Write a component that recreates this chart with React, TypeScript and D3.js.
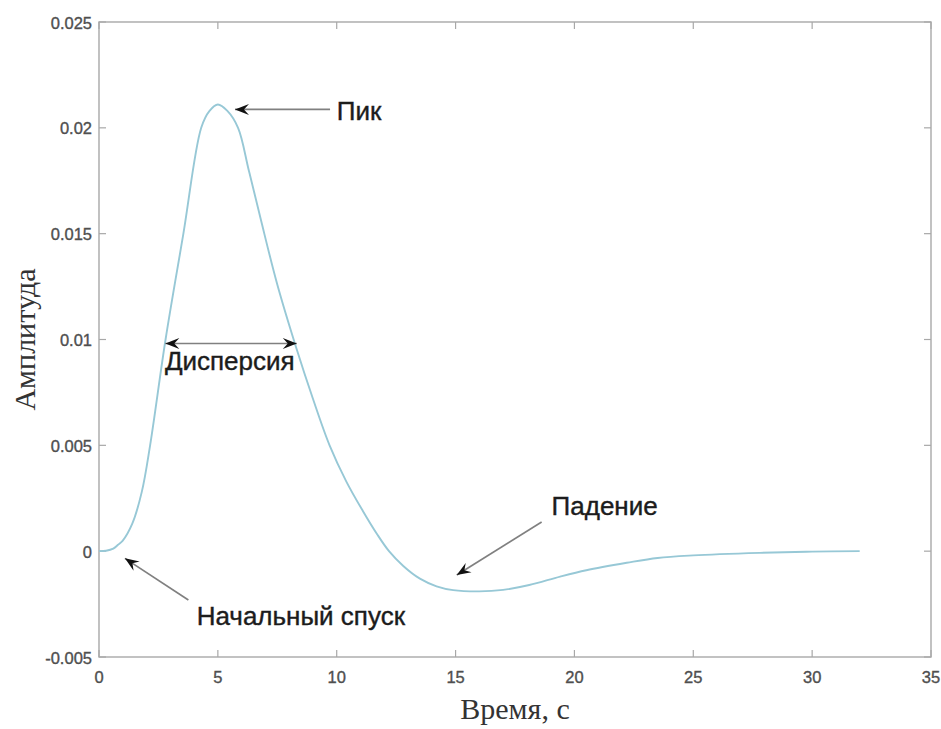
import React from 'react'
import * as d3 from 'd3'

// curve
const timeS = [0, 0.3, 0.6, 0.8, 1.0, 1.4, 1.8, 2.15, 2.8, 3.55, 4.3, 4.65, 5.0, 5.4, 5.85, 6.3, 6.8, 7.5, 8.3, 9.0, 9.7, 10.4, 11.1, 11.7, 12.2, 12.8, 13.5, 14.2, 14.9, 16.0, 17.0, 18.1, 19.4, 20.5, 22.2, 23.5, 25.0, 27.8, 30.0, 32.0]
const amplitude = [0, 0.00002, 0.00012, 0.0003, 0.0005, 0.0013, 0.0028, 0.005, 0.01, 0.015, 0.02, 0.0208, 0.0211, 0.0208, 0.02, 0.018, 0.0157, 0.0126, 0.0096, 0.0072, 0.005, 0.0033, 0.0019, 0.0008, 0, -0.0007, -0.0013, -0.00166, -0.00184, -0.0019, -0.00183, -0.0016, -0.0012, -0.0009, -0.00055, -0.00032, -0.0002, -0.00008, -0.00002, 0]

const xTicks = [0, 5, 10, 15, 20, 25, 30, 35]
const yTicks = [-0.005, 0, 0.005, 0.01, 0.015, 0.02, 0.025]

// annotations in data units: text position and arrow from -> to
const notes = [
  { label: 'Пик', tx: 10.0, ta: 0.02036, from: [9.72, 0.02087], to: [5.72, 0.02087], both: false, anchor: 'start' },
  { label: 'Дисперсия', tx: 5.5, ta: 0.00855, from: [2.79, 0.00981], to: [8.32, 0.00981], both: true, anchor: 'middle' },
  { label: 'Падение', tx: 19.04, ta: 0.0017, from: [18.62, 0.00138], to: [15.05, -0.00113], both: false, anchor: 'start' },
  { label: 'Начальный спуск', tx: 4.11, ta: -0.0035, from: [3.76, -0.00231], to: [1.09, -0.00034], both: false, anchor: 'start' },
]

const W = 941
const H = 729
const M = { left: 99, right: 10, top: 22, bottom: 72 }

function arrowHead(x: number, y: number, angle: number) {
  // concave head pointing at (x,y)
  const L = 14, Wd = 5.5, back = 9
  const c = Math.cos(angle), s = Math.sin(angle)
  const pt = (u: number, v: number) => [x - u * c + v * s, y - u * s - v * c]
  const p1 = pt(L, Wd), p2 = pt(back, 0), p3 = pt(L, -Wd)
  return `M${x},${y}L${p1[0]},${p1[1]}L${p2[0]},${p2[1]}L${p3[0]},${p3[1]}Z`
}

export default function App() {
  const x = d3.scaleLinear().domain([0, 35]).range([M.left, W - M.right])
  const y = d3.scaleLinear().domain([-0.005, 0.025]).range([H - M.bottom, M.top])
  const pts = timeS.map((t, i) => [t, amplitude[i]] as [number, number])
  const line = d3.line<[number, number]>().x(d => x(d[0])).y(d => y(d[1])).curve(d3.curveCatmullRom.alpha(0.5))
  const x0 = x(0), x1 = x(35), y0 = y(-0.005), y1 = y(0.025)
  const tl = 7
  const axisColor = '#a8a8a8'
  const tickText = '#4f4f4f'
  const sans = 'Liberation Sans, Arial, sans-serif'
  const serif = 'Liberation Serif, Times New Roman, serif'

  return (
    <svg width={W} height={H} style={{ position: 'absolute', left: 0, top: 0, background: '#fff' }}>
      <rect x={x0} y={y1} width={x1 - x0} height={y0 - y1} fill="none" stroke={axisColor} strokeWidth={1.4} />
      {xTicks.map(t => (
        <g key={'x' + t}>
          <line x1={x(t)} x2={x(t)} y1={y0} y2={y0 - tl} stroke={axisColor} strokeWidth={1.2} />
          <line x1={x(t)} x2={x(t)} y1={y1} y2={y1 + tl} stroke={axisColor} strokeWidth={1.2} />
          <text x={x(t)} y={y0 + 26} textAnchor="middle" fontFamily={sans} fontSize={16.5} fill={tickText} stroke={tickText} strokeWidth={0.35}>{t}</text>
        </g>
      ))}
      {yTicks.map(v => (
        <g key={'y' + v}>
          <line x1={x0} x2={x0 + tl} y1={y(v)} y2={y(v)} stroke={axisColor} strokeWidth={1.2} />
          <line x1={x1} x2={x1 - tl} y1={y(v)} y2={y(v)} stroke={axisColor} strokeWidth={1.2} />
          <text x={x0 - 7} y={y(v) + 6.5} textAnchor="end" fontFamily={sans} fontSize={16.5} fill={tickText} stroke={tickText} strokeWidth={0.35}>{String(v)}</text>
        </g>
      ))}
      <path d={line(pts) || ''} fill="none" stroke="#97c8d6" strokeWidth={1.9} />
      {notes.map(n => {
        const fx = x(n.from[0]), fy = y(n.from[1]), tx = x(n.to[0]), ty = y(n.to[1])
        const ang = Math.atan2(ty - fy, tx - fx)
        return (
          <g key={n.label}>
            <line x1={fx} y1={fy} x2={tx} y2={ty} stroke="#808080" strokeWidth={1.7} />
            <path d={arrowHead(tx, ty, ang)} fill="#111" />
            {n.both && <path d={arrowHead(fx, fy, ang + Math.PI)} fill="#111" />}
            <text x={x(n.tx)} y={y(n.ta)} textAnchor={n.anchor as any} fontFamily={sans} fontSize={26} fill="#1c1c1c" stroke="#1c1c1c" strokeWidth={0.4}>{n.label}</text>
          </g>
        )
      })}
      <text x={(x0 + x1) / 2} y={H - 10} textAnchor="middle" fontFamily={serif} fontSize={30} fill="#333">Время, с</text>
      <text transform={`translate(35, ${(y0 + y1) / 2}) rotate(-90)`} textAnchor="middle" fontFamily={serif} fontSize={30} fill="#333">Амплитуда</text>
    </svg>
  )
}
